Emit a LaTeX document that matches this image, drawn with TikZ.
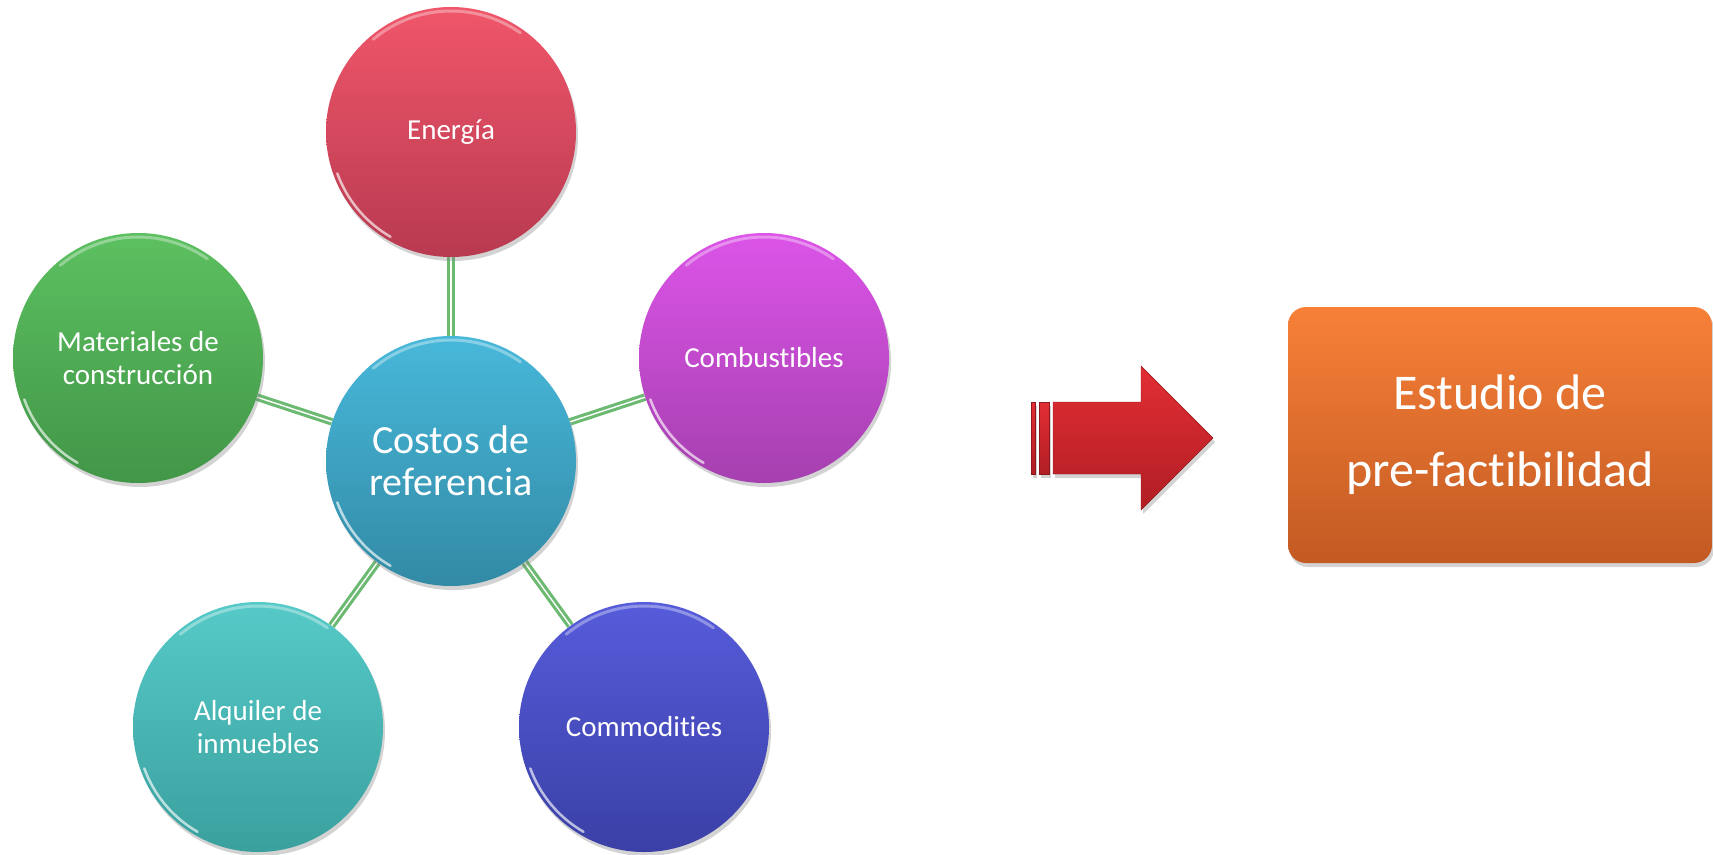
\documentclass[tikz,border=0pt]{standalone}
\usepackage{fontspec}
\setmainfont{Carlito}[Ligatures={NoCommon,NoRare,NoDiscretionary}]
\usetikzlibrary{shadows,backgrounds,calc}
\definecolor{enTop}{RGB}{240,86,106}
\definecolor{enBot}{RGB}{184,58,80}
\definecolor{cbTop}{RGB}{220,84,232}
\definecolor{cbBot}{RGB}{165,64,175}
\definecolor{cmTop}{RGB}{86,92,218}
\definecolor{cmBot}{RGB}{58,64,165}
\definecolor{alTop}{RGB}{86,202,200}
\definecolor{alBot}{RGB}{58,160,158}
\definecolor{maTop}{RGB}{92,192,96}
\definecolor{maBot}{RGB}{66,150,72}
\definecolor{ceTop}{RGB}{72,184,218}
\definecolor{ceBot}{RGB}{50,138,165}
\definecolor{orTop}{RGB}{247,128,56}
\definecolor{orBot}{RGB}{194,90,34}
\definecolor{rdTop}{RGB}{226,46,52}
\definecolor{rdBot}{RGB}{176,30,36}
\definecolor{linkgreen}{RGB}{108,186,114}
\tikzset{
  bubble/.style={circle, minimum size=250pt, inner sep=0pt, text=white, align=center,
    font=\fontsize{29}{33}\selectfont,
    drop shadow={opacity=0.35, shadow xshift=2pt, shadow yshift=-4pt},
    path picture={
      \draw[white, opacity=0.35, line width=3pt, line cap=round]
        ($(path picture bounding box.center)+(55:121pt)$) arc[start angle=55, end angle=130, radius=121pt];
      \draw[white, opacity=0.65, line width=2.5pt, line cap=round]
        ($(path picture bounding box.center)+(200:121pt)$) arc[start angle=200, end angle=240, radius=121pt];
    }},
  link/.style={draw=linkgreen, double=white, double distance=1.4pt, line width=3.1pt},
  redshape/.style={top color=rdTop, bottom color=rdBot, draw=rdBot!80!black, line width=0.4pt,
    drop shadow={opacity=0.35, shadow xshift=2pt, shadow yshift=-4pt}},
}
\begin{document}
\begin{tikzpicture}[x=1pt, y=-1pt]
\useasboundingbox (0,0) rectangle (1713,854);
\node[bubble, top color=ceTop, bottom color=ceBot, font=\fontsize{40}{42}\selectfont] (c) at (451,461) {Costos de\\referencia};
\node[bubble, top color=enTop, bottom color=enBot] (en) at (451,132) {Energía};
\node[bubble, top color=cbTop, bottom color=cbBot] (cb) at (764,358) {Combustibles};
\node[bubble, top color=cmTop, bottom color=cmBot] (cm) at (644,727) {Commodities};
\node[bubble, top color=alTop, bottom color=alBot] (al) at (258,727) {Alquiler de\\inmuebles};
\node[bubble, top color=maTop, bottom color=maBot] (ma) at (138,358) {Materiales de\\construcción};
\begin{pgfonlayer}{background}
\draw[link] (c) -- (en);
\draw[link] (c) -- (cb);
\draw[link] (c) -- (cm);
\draw[link] (c) -- (al);
\draw[link] (c) -- (ma);
\end{pgfonlayer}
% arrow
\path[redshape] (1031,402) rectangle (1035,474);
\path[redshape] (1039,402) rectangle (1049,474);
\path[redshape] (1053,402) -- (1141,402) -- (1141,366) -- (1213,438) -- (1141,510) -- (1141,474) -- (1053,474) -- cycle;
% box
\node[rectangle, rounded corners=18pt, minimum width=424pt, minimum height=256pt,
  top color=orTop, bottom color=orBot, text=white, align=center,
  font=\fontsize{50}{77}\selectfont,
  drop shadow={opacity=0.35, shadow xshift=2pt, shadow yshift=-4pt}] (box) at (1500,435) {Estudio de\\pre-factibilidad};
\end{tikzpicture}
\end{document}
